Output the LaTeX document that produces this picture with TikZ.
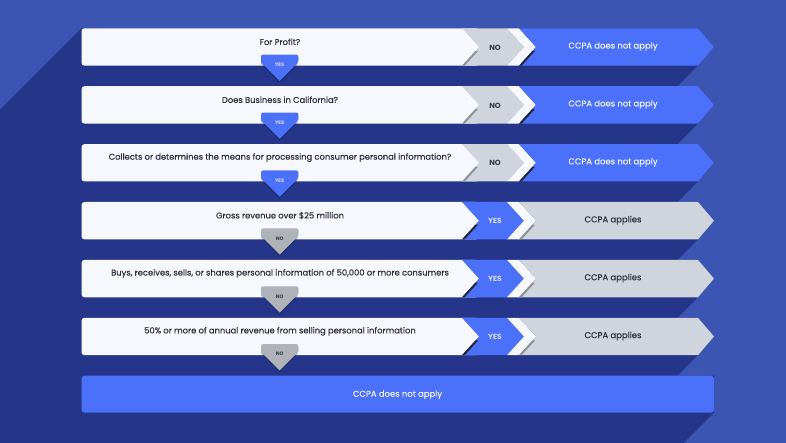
\documentclass[tikz,border=0pt]{standalone}
\usepackage{fontspec}
\setmainfont{Poppins}
\newfontfamily\qfont{Poppins}[FakeBold=0.35]
\definecolor{bglight}{HTML}{3C54B2}
\definecolor{bgdark}{HTML}{25368A}
\definecolor{cblue}{HTML}{4B70FA}
\definecolor{cwhite}{HTML}{F7F8FE}
\definecolor{cgray}{HTML}{D0D4DD}
\definecolor{ctri}{HTML}{B0B2BA}
\definecolor{ctext}{HTML}{2F303D}
\definecolor{clbl}{HTML}{3A3B45}
\definecolor{cyes}{HTML}{D8DDF5}
\definecolor{reswhite}{HTML}{F0F2FF}
\definecolor{shgray}{HTML}{8F9198}
\definecolor{shdark}{HTML}{23242F}
\tikzset{
  qtext/.style={font=\qfont\fontsize{8.4}{9}\selectfont, text=ctext, inner sep=0pt},
  midlbl/.style={font=\bfseries\fontsize{7.5}{8}\selectfont, inner sep=0pt},
  restext/.style={font=\qfont\fontsize{8.5}{10}\selectfont, inner sep=0pt},
  trilbl/.style={font=\bfseries\fontsize{5}{6}\selectfont, inner sep=0pt},
}
\newcommand\ccrow[4]{%
  \pgfmathsetmacro\T{#1}%
  \pgfmathsetmacro\B{#1+37.4}%
  \pgfmathsetmacro\M{#1+18.7}%
  \ifnum#3=1
    \def\midc{cgray}\def\mids{shgray}\def\midl{NO}\def\midt{clbl}%
    \def\resc{cblue}\def\ress{shdark}\def\resl{CCPA does not apply}\def\rest{reswhite}%
    \def\tric{cblue}\def\tril{YES}\def\trit{cyes}%
  \else
    \def\midc{cblue}\def\mids{shdark}\def\midl{YES}\def\midt{cyes}%
    \def\resc{cgray}\def\ress{shgray}\def\resl{CCPA applies}\def\rest{ctext}%
    \def\tric{ctri}\def\tril{NO}\def\trit{clbl}%
  \fi
  % question box
  \fill[cwhite,rounded corners=3] (81.5,\T) rectangle (479,\B);
  % middle piece
  \fill[\midc] (462,\T) -- (507,\T) -- (524,\M) -- (507,\B) -- (462,\B) -- (479,\M) -- cycle;
  \fill[\mids] (462,\B) -- (475.4,\M+4) -- (478,\M+4) -- (464.6,\B) -- cycle;
  % white stripe
  \fill[cwhite] (507,\T) -- (519,\T) -- (536,\M) -- (519,\B) -- (507,\B) -- (524,\M) -- cycle;
  % result piece
  \fill[\resc] (519,\T) -- (698,\T) -- (714,\M) -- (698,\B) -- (519,\B) -- (536,\M) -- cycle;
  \fill[\ress] (519,\B) -- (532.4,\M+4) -- (535,\M+4) -- (521.6,\B) -- cycle;
  % down triangle
  \fill[black,opacity=.25,rounded corners=2] (261,\B-11+1.5) -- (298.4,\B-11+1.5) -- (298.4,\B-3.4+1.5) [sharp corners] -- (279.7,\B+15.3+1.5) -- (261,\B-3.4+1.5) -- cycle;
  \fill[\tric,rounded corners=2] (261,\B-3.4) -- (261,\B-11) -- (298.4,\B-11) -- (298.4,\B-3.4) [sharp corners] -- (279.7,\B+15.3) -- cycle;
  % texts
  \node[qtext] (q#2) at (280,\T+13.5) {#4};
  \node[midlbl,text=\midt] (m#2) at (495,\M+0.5) {\midl};
  \node[restext,text=\rest] (r#2) at (613,\M-0.5) {\resl};
  \node[trilbl,text=\trit] (t#2) at (279.7,\B-1) {\tril};
}
\begin{document}
\begin{tikzpicture}[x=1bp,y=-1bp]
\useasboundingbox (0,0) rectangle (786,443);
\fill[bglight] (0,0) rectangle (786,443);
\begin{scope}
  \clip (0,0) rectangle (786,443);
  \foreach \tt in {28.3,86.2,144.1,202.0,259.9,317.8}{
    \fill[bgdark] (81.5,\tt) -- (698,\tt) -- (714,\tt+18.7) -- (698,\tt+37.4)
      -- (98,\tt+637.4) -- (-518.5,\tt+637.4) -- (-518.5,\tt+600) -- cycle;
  }
  \fill[bgdark] (81.5,375.7) -- (714,375.7) -- (714,412.7) -- (114,1012.7)
      -- (-518.5,1012.7) -- (-518.5,975.7) -- cycle;
\end{scope}
\ccrow{28.3}{a}{1}{For Profit?}
\ccrow{86.2}{b}{1}{Does Business in California?}
\ccrow{144.1}{c}{1}{Collects or determines the means for processing consumer personal information?}
\ccrow{202.0}{d}{0}{Gross revenue over \$25 million}
\ccrow{259.9}{e}{0}{Buys, receives, sells, or shares personal information of 50,000 or more consumers}
\ccrow{317.8}{f}{0}{50\% or more of annual revenue from selling personal information}
\fill[cblue,rounded corners=3] (81.5,375.7) rectangle (714,412.7);
\node[restext,text=reswhite] (final) at (397.5,394.7) {CCPA does not apply};
\end{tikzpicture}
\end{document}
